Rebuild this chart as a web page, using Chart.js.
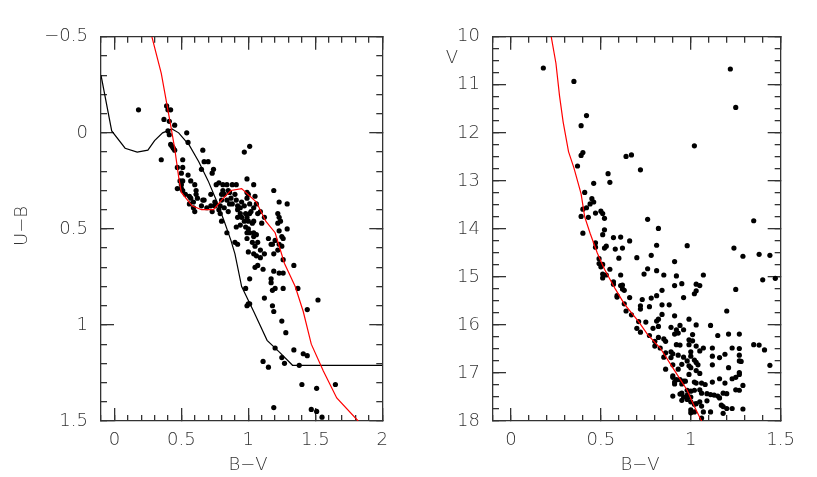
<!DOCTYPE html>
<html>
<head>
<meta charset="utf-8">
<script src="https://cdn.jsdelivr.net/npm/chart.js@4.4.1/dist/chart.umd.min.js"></script>
<style>
  html, body { margin: 0; padding: 0; background: #fff; }
  #wrap { position: relative; width: 817px; height: 477px; }
  canvas { position: absolute; top: 0; }
  #leftChart { left: 0; width: 410px; height: 477px; }
  #rightChart { left: 410px; width: 407px; height: 477px; }
</style>
</head>
<body>
<div id="wrap">
  <canvas id="leftChart" width="410" height="477"></canvas>
  <canvas id="rightChart" width="407" height="477"></canvas>
</div>
<script>
// Tick labels
const leftXTicks = [0, 0.5, 1, 1.5, 2];
const leftYTicks = [-0.5, 0, 0.5, 1, 1.5];
const rightXTicks = [0, 0.5, 1, 1.5];
const rightYTicks = [10, 11, 12, 13, 14, 15, 16, 17, 18];

// Left panel: stars, two-colour diagram
const leftBV = [0.18, 0.39, 0.40, 0.42, 0.37, 0.41, 0.45, 0.54, 0.40, 0.41, 0.55, 0.42, 0.43, 0.44, 0.45, 0.35, 0.66, 0.67, 0.70, 0.51,
  0.47, 0.51, 0.50, 0.55, 0.65, 0.74, 0.73, 0.97, 1.01, 0.49, 0.51, 0.57, 0.60, 0.50, 0.50, 0.47, 0.51, 0.61, 0.61, 0.53,
  0.56, 0.62, 0.66, 0.59, 0.72, 0.75, 0.57, 0.56, 0.59, 0.60, 0.65, 0.69, 0.72, 0.73, 0.75, 0.78, 0.79, 0.67, 0.80,
  0.76, 0.78, 0.81, 0.84, 0.88, 0.91, 0.99, 1.04, 1.19, 0.81, 0.85, 0.80, 0.82, 0.86, 0.90, 0.87, 0.91, 0.80, 0.84, 0.86,
  0.79, 0.82, 0.85, 0.88, 0.92, 0.94, 0.92, 0.97, 0.95, 0.99, 1.01, 1.00, 0.99, 1.05, 1.06, 1.04, 1.02, 1.01, 0.98, 0.94,
  0.92, 0.95, 0.99, 0.97, 1.00, 1.04, 1.07, 1.09, 1.12, 1.10, 1.03, 0.91, 0.94, 0.98, 1.00, 1.01, 0.99, 1.04, 1.06, 1.04,
  0.99, 0.84, 0.90, 0.92, 1.03, 1.07, 1.15, 1.17, 1.20, 1.18, 1.23, 1.25, 1.22, 1.19, 1.05, 1.09, 1.00, 1.04, 1.06, 1.12,
  1.09, 1.23, 1.29, 1.22, 1.23, 1.24, 1.22, 1.29, 1.23, 1.25, 1.26, 1.26, 1.34, 1.05, 1.07, 1.11, 1.19, 1.23, 1.26, 1.17,
  1.01, 1.17, 1.20, 1.18, 1.26, 1.37, 0.98,
  1.12, 1.52, 0.99, 1.01, 1.00, 1.18, 1.19, 1.44, 1.25, 1.28, 1.20, 1.34, 1.41, 1.44, 1.11, 1.25, 1.27, 1.15, 1.38, 1.40,
  1.51, 1.65, 1.19, 1.47, 1.51, 1.55];
const leftUB = [-0.12, -0.14, -0.12, -0.12, -0.07, -0.06, -0.04, 0.00, -0.01, 0.01, 0.05, 0.06, 0.07, 0.08, 0.09, 0.14, 0.09, 0.15, 0.15, 0.14,
  0.18, 0.18, 0.21, 0.22, 0.19, 0.19, 0.21, 0.10, 0.07, 0.25, 0.25, 0.25, 0.27, 0.27, 0.29, 0.29, 0.30, 0.30, 0.32, 0.32,
  0.33, 0.34, 0.35, 0.36, 0.32, 0.36, 0.34, 0.37, 0.39, 0.41, 0.38, 0.39, 0.38, 0.41, 0.38, 0.40, 0.42, 0.35, 0.46,
  0.27, 0.26, 0.27, 0.27, 0.27, 0.27, 0.24, 0.27, 0.30, 0.30, 0.30, 0.32, 0.32, 0.31, 0.32, 0.34, 0.35, 0.35, 0.35, 0.37,
  0.38, 0.39, 0.41, 0.37, 0.38, 0.39, 0.40, 0.38, 0.36, 0.34, 0.37, 0.32, 0.31, 0.33, 0.37, 0.39, 0.41, 0.42, 0.42, 0.42,
  0.44, 0.44, 0.44, 0.46, 0.46, 0.46, 0.42, 0.41, 0.44, 0.47, 0.47, 0.49, 0.48, 0.49, 0.50, 0.52, 0.52, 0.52, 0.53, 0.54,
  0.55, 0.52, 0.57, 0.58, 0.57, 0.57, 0.55, 0.58, 0.56, 0.58, 0.58, 0.59, 0.61, 0.63, 0.59, 0.61, 0.62, 0.63, 0.64, 0.63,
  0.65, 0.36, 0.37, 0.42, 0.44, 0.46, 0.47, 0.50, 0.51, 0.54, 0.55, 0.66, 0.69, 0.70, 0.69, 0.71, 0.72, 0.73, 0.73, 0.76,
  0.76, 0.78, 0.81, 0.82, 0.81, 0.81, 0.81,
  0.86, 0.87, 0.90, 0.89, 0.89, 0.90, 0.93, 0.92, 0.98, 1.04, 1.12, 1.13, 1.15, 1.16, 1.19, 1.17, 1.20, 1.22, 1.21, 1.31,
  1.33, 1.31, 1.43, 1.44, 1.45, 1.48];

// Left panel: black (intrinsic) and red (shifted) relations
const blackBV = [-0.10, -0.02, 0.08, 0.17, 0.25, 0.30, 0.36, 0.43, 0.48, 0.56, 0.63, 0.70, 0.76, 0.82, 0.87, 0.90, 0.95, 1.04, 1.14, 1.23, 1.33, 2.00];
const blackUB = [-0.30, -0.01, 0.08, 0.10, 0.09, 0.04, 0.00, -0.02, 0.00, 0.065, 0.15, 0.25, 0.35, 0.46, 0.56, 0.63, 0.80, 0.93, 1.08, 1.14, 1.21, 1.21];
const redBV = [0.28, 0.35, 0.42, 0.45, 0.48, 0.50, 0.58, 0.65, 0.74, 0.80, 0.87, 0.95, 1.06, 1.13, 1.20, 1.27, 1.35, 1.41, 1.47, 1.56, 1.66, 1.82];
const redUB = [-0.50, -0.31, -0.04, 0.08, 0.23, 0.31, 0.38, 0.40, 0.40, 0.35, 0.30, 0.29, 0.36, 0.46, 0.52, 0.68, 0.80, 0.93, 1.10, 1.24, 1.38, 1.50];

// Right panel: stars, colour-magnitude diagram
const rightBV = [0.18, 0.35, 0.42, 0.39, 0.40, 0.39, 0.37, 0.54, 0.55, 0.46, 0.41, 0.64, 0.67, 0.72, 0.45, 0.46, 0.44, 0.42, 0.40, 0.50,
  0.51, 0.47, 0.52, 0.43, 0.39, 0.76, 0.82, 0.52, 0.40, 0.51, 0.57, 0.61, 0.66, 1.02, 1.22, 1.25, 1.35,
  0.47, 0.47, 0.52, 0.53, 0.58, 0.62, 0.81, 0.98, 1.24, 1.29, 1.38, 1.44, 0.49, 0.49, 0.51, 0.50, 0.55, 0.60, 0.70, 0.78,
  0.76, 0.74, 0.81, 0.85, 0.91, 0.92, 0.95, 0.91, 1.03, 1.05, 1.07, 1.02, 1.03, 0.96, 1.25, 1.40, 1.47, 0.51, 0.51, 0.53,
  0.57, 0.61, 0.57, 0.61, 0.62, 0.62, 0.63, 0.59, 0.59, 0.66, 0.63, 0.64, 0.67, 0.73, 0.72, 0.72, 0.77, 0.78, 0.81, 0.84,
  0.84, 0.88, 0.84, 0.82, 0.81, 0.75, 0.71, 0.70, 0.72, 0.79, 0.82, 0.77, 0.80, 0.82, 0.85, 0.80, 0.83, 0.86, 0.91, 0.99,
  1.03, 0.94, 0.89, 0.92, 0.96, 0.91, 0.93, 1.01, 0.99, 1.01, 0.92, 0.94, 0.99, 1.03, 1.07, 1.05, 1.00, 0.89, 0.86, 0.85,
  0.89, 0.93, 0.90, 0.96, 1.00, 0.98, 1.02, 1.03, 0.99, 1.00, 1.04, 1.03, 1.05, 0.99, 0.95, 0.93, 0.90, 0.86, 0.90, 0.90,
  0.92, 0.94, 0.96, 0.91, 0.91, 0.95, 0.97, 1.02, 1.03, 1.06, 1.08, 0.98, 0.95, 0.94, 0.90, 0.96, 0.98, 1.00, 1.02, 1.05,
  1.06, 1.09, 1.11, 1.13, 1.15, 1.16, 1.18, 1.20, 1.12, 1.16, 1.19, 1.21, 1.16, 1.19, 1.23, 1.27, 1.27, 1.27, 1.28, 1.27,
  1.27, 1.25, 1.23, 1.25, 1.27, 1.29, 1.27, 1.21, 1.20, 1.15, 1.11, 1.12, 1.12, 1.12, 1.35, 1.38, 1.41, 1.44, 1.00, 1.00,
  1.02, 1.03, 1.05, 1.06, 1.00, 1.02, 1.00, 1.07, 1.11, 1.17, 1.18, 1.20, 1.18, 1.23, 1.29, 1.09, 0.95, 0.98, 1.06];
const rightV = [10.65, 10.93, 11.64, 11.85, 12.41, 12.47, 12.69, 12.85, 13.03, 13.05, 13.24, 12.49, 12.46, 12.77, 13.37, 13.44, 13.48, 13.56, 13.59, 13.63,
  13.68, 13.67, 13.78, 13.76, 13.74, 13.80, 13.99, 14.02, 14.09, 14.12, 14.18, 14.17, 14.25, 12.27, 10.67, 11.47, 13.83,
  14.29, 14.38, 14.40, 14.36, 14.42, 14.40, 14.34, 14.35, 14.40, 14.57, 14.53, 14.55, 14.62, 14.72, 14.74, 14.79, 14.84, 14.61, 14.60, 14.55,
  14.83, 14.94, 14.87, 14.96, 14.68, 14.98, 15.14, 15.18, 15.15, 15.18, 14.96, 15.35, 15.29, 15.43, 15.26, 15.06, 15.03, 14.94, 15.02, 14.96,
  15.10, 14.96, 15.15, 15.18, 15.17, 15.25, 15.28, 15.39, 15.42, 15.43, 15.56, 15.71, 15.79, 15.47, 15.60, 15.67, 15.62, 15.44, 15.39, 15.28,
  15.58, 15.58, 15.78, 15.88, 15.92, 15.94, 15.93, 16.07, 16.15, 16.07, 16.03, 16.22, 16.34, 16.26, 16.29, 16.44, 16.48, 16.34, 15.81, 15.88,
  16.00, 16.01, 16.05, 16.10, 16.10, 16.19, 16.17, 16.20, 16.31, 16.33, 16.41, 16.42, 16.41, 16.44, 16.48, 16.54, 16.56, 16.56, 16.58, 16.67,
  16.68, 16.63, 16.60, 16.67, 16.65, 16.75, 16.73, 16.78, 16.85, 16.89, 16.83, 16.95, 17.01, 17.03, 16.82, 16.92, 16.83, 16.92, 17.06, 17.09,
  17.14, 17.14, 17.17, 17.23, 17.19, 17.23, 17.17, 17.19, 17.21, 17.21, 17.24, 17.36, 17.42, 17.44, 17.48, 17.50, 17.46, 17.38, 17.36, 17.35,
  17.42, 17.43, 17.45, 17.46, 17.48, 17.52, 17.42, 17.43, 17.19, 17.12, 17.21, 16.89, 16.68, 16.61, 16.48, 16.49, 16.63, 16.75, 16.76, 16.99,
  17.03, 17.09, 17.12, 17.35, 17.36, 17.26, 16.19, 16.19, 15.71, 16.22, 16.01, 16.48, 16.83, 16.65, 16.41, 16.42, 16.52, 16.84, 17.50, 17.60,
  17.65, 17.64, 17.60, 17.69, 17.77, 17.81, 17.83, 17.81, 17.81, 17.67, 17.70, 17.74, 17.84, 17.74, 17.75, 17.58, 17.57, 17.55, 17.94];

// Right panel: red isochrone
const isoBV = [0.224, 0.25, 0.27, 0.29, 0.32, 0.35, 0.39, 0.41, 0.44, 0.48, 0.52, 0.58, 0.63, 0.71, 0.76, 0.83, 0.91, 0.98, 1.02, 1.06];
const isoV = [10.00, 10.55, 11.23, 11.77, 12.39, 12.73, 13.27, 13.75, 14.09, 14.50, 14.84, 15.25, 15.56, 15.93, 16.20, 16.48, 16.95, 17.36, 17.70, 18.00];

const FONT = '"DejaVu Sans", sans-serif';
const WEIGHT = 200;
const INK = '#333';
const MAJOR = 13;
const MINOR = 6;

const toPoints = (xs, ys) => xs.map((v, i) => ({x: v, y: ys[i]}));
const fmt = v => (v < 0 ? '\u2212' + Math.abs(v) : String(v));
const range = (min, max, step) => {
  const n = Math.round((max - min) / step);
  return Array.from({length: n + 1}, (_, i) => +(min + i * step).toFixed(4));
};

// tick marks are drawn by Chart.js itself; a negative length turns them inward
const tickGrid = len => ({
  display: true, drawOnChartArea: false, drawTicks: true,
  tickLength: -len, color: INK, lineWidth: 1.3, tickWidth: 1.3
});
const frameBorder = on => ({display: on, color: INK, width: 1.3});
const fixedTicks = values => s => { s.ticks = values.map(v => ({value: v})); };

// zero-size axis that only adds tick marks (and maybe a frame side)
const sideAxis = (axis, position, lim, values, len, border) => ({
  type: 'linear', axis: axis, position: position,
  min: lim[0], max: lim[1], reverse: axis === 'y', weight: 0,
  grid: tickGrid(len),
  border: frameBorder(border),
  afterBuildTicks: fixedTicks(values),
  afterFit: s => { if (axis === 'x') s.height = 0; else s.width = 0; },
  ticks: {display: false, autoSkip: false}
});

// axis titles
const makeTitles = (titles) => ({
  id: 'axisTitles',
  afterDraw(chart) {
    const ctx = chart.ctx;
    ctx.save();
    ctx.fillStyle = INK;
    ctx.font = WEIGHT + ' 18px ' + FONT;
    ctx.textAlign = 'center';
    ctx.textBaseline = 'middle';
    titles.forEach(t => {
      ctx.save();
      ctx.translate(t.x, t.y);
      if (t.rot) ctx.rotate(t.rot);
      ctx.fillText(t.text, 0, 0);
      ctx.restore();
    });
    ctx.restore();
  }
});

const lineSet = (xs, ys, color, order) => ({
  data: toPoints(xs, ys),
  showLine: true,
  borderColor: color,
  borderWidth: 1.2,
  pointRadius: 0,
  order: order
});

const makeChart = (id, cfg) => {
  const xl = [cfg.xMin, cfg.xMax];
  const yl = [cfg.yMin, cfg.yMax];
  const xMinorTicks = range(cfg.xMin, cfg.xMax, cfg.xMinor);
  const yMinorTicks = range(cfg.yMin, cfg.yMax, cfg.yMinor);
  return new Chart(document.getElementById(id), {
    type: 'scatter',
    data: {
      datasets: cfg.lines.concat([{
        data: toPoints(cfg.starX, cfg.starY),
        backgroundColor: '#000',
        borderWidth: 0,
        pointRadius: 2.6,
        order: 2
      }])
    },
    options: {
      responsive: false,
      animation: false,
      layout: {padding: {left: 0, top: 30, right: cfg.padRight, bottom: 0}},
      plugins: {legend: {display: false}, tooltip: {enabled: false}},
      scales: {
        x: {
          type: 'linear', axis: 'x', position: 'bottom', weight: 1,
          min: cfg.xMin, max: cfg.xMax,
          grid: tickGrid(MAJOR),
          border: frameBorder(true),
          afterBuildTicks: fixedTicks(cfg.xTicks),
          afterFit: s => { s.height = 56; },
          ticks: {color: INK, padding: 9 + MAJOR, autoSkip: false, maxRotation: 0,
                  font: {family: FONT, size: 18, weight: WEIGHT}, callback: fmt}
        },
        y: {
          type: 'linear', axis: 'y', position: 'left', weight: 1, reverse: true,
          min: cfg.yMin, max: cfg.yMax,
          grid: tickGrid(MAJOR),
          border: frameBorder(true),
          afterBuildTicks: fixedTicks(cfg.yTicks),
          afterFit: s => { s.width = cfg.yWidth; },
          ticks: {color: INK, padding: 13 + MAJOR, autoSkip: false,
                  font: {family: FONT, size: 18, weight: WEIGHT}, callback: fmt}
        },
        xBottomMinor: sideAxis('x', 'bottom', xl, xMinorTicks, MINOR, false),
        xTop: sideAxis('x', 'top', xl, cfg.xTicks, MAJOR, true),
        xTopMinor: sideAxis('x', 'top', xl, xMinorTicks, MINOR, false),
        yLeftMinor: sideAxis('y', 'left', yl, yMinorTicks, MINOR, false),
        yRight: sideAxis('y', 'right', yl, cfg.yTicks, MAJOR, true),
        yRightMinor: sideAxis('y', 'right', yl, yMinorTicks, MINOR, false)
      }
    },
    plugins: [makeTitles(cfg.titles)]
  });
};

makeChart('leftChart', {
  starX: leftBV, starY: leftUB,
  lines: [lineSet(redBV, redUB, '#ff0000', 0), lineSet(blackBV, blackUB, '#000', 1)],
  xMin: -0.1, xMax: 2, yMin: -0.5, yMax: 1.5,
  xMinor: 0.1, yMinor: 0.1,
  xTicks: leftXTicks, yTicks: leftYTicks,
  yWidth: 101, padRight: 16,
  titles: [
    {text: 'B\u2212V', x: 248, y: 465},
    {text: 'U\u2212B', x: 22, y: 226, rot: -Math.PI / 2}
  ]
});

makeChart('rightChart', {
  starX: rightBV, starY: rightV,
  lines: [lineSet(isoBV, isoV, '#ff0000', 0)],
  xMin: -0.1, xMax: 1.5, yMin: 10, yMax: 18,
  xMinor: 0.1, yMinor: 0.25,
  xTicks: rightXTicks, yTicks: rightYTicks,
  yWidth: 83, padRight: 31,
  titles: [
    {text: 'B\u2212V', x: 230, y: 465},
    {text: 'V', x: 42, y: 58}
  ]
});
</script>
</body>
</html>
